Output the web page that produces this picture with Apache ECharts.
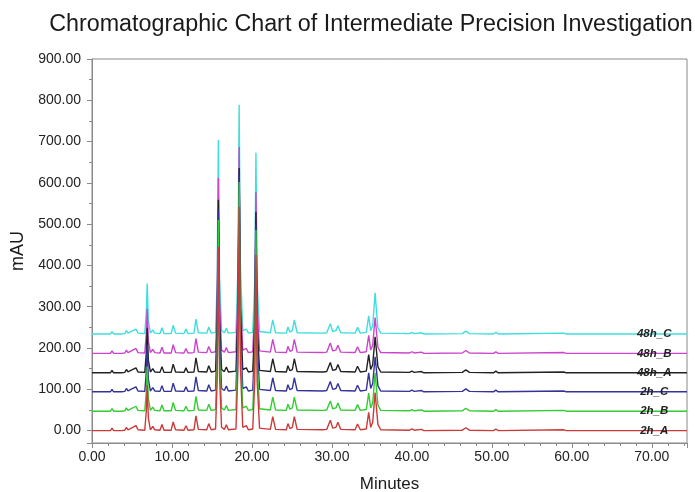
<!DOCTYPE html>
<html><head><meta charset="utf-8">
<script src="https://cdn.jsdelivr.net/npm/echarts@6/dist/echarts.min.js"></script>
<style>html,body{margin:0;padding:0;background:#fff}#c{width:695px;height:492px}</style>
</head><body><div id="c"></div>
<script>
// retention times (minutes)
const times = [
  0, 2.3, 2.5, 2.7, 3.3, 3.5, 3.7, 4.1, 4.3, 4.5,
  4.8, 5.05, 5.5, 5.75, 6.6, 6.8, 6.9, 7.05, 7.3, 7.6,
  7.85, 8.5, 8.75, 9.0, 9.9, 10.15, 10.45, 11.5, 11.75, 12.0,
  12.75, 13.0, 13.3, 14.35, 14.6, 14.9, 15.45, 15.65, 15.8, 15.95,
  16.2, 16.55, 16.8, 17.05, 18.0, 18.25, 18.4, 18.55, 18.85, 19.1,
  19.3, 19.55, 20.1, 20.35, 20.5, 20.65, 20.95, 22.3, 22.6, 22.95,
  24.3, 24.5, 24.75, 25.05, 25.3, 25.65, 28.9, 29.1, 29.35, 29.8,
  30.1, 30.5, 30.75, 31.1, 32.9, 33.2, 33.55, 34.3, 34.6, 34.85,
  35.1, 35.4, 35.55, 35.75, 36.1, 39.7, 40.0, 40.3, 41.2, 41.5,
  46.3, 46.75, 47.2, 50.2, 50.5, 50.8, 59.0, 59.3, 74.4
];
const v2hA = [
  0,0,6,0,0,4,0,1,8,2,
  5,2,12,2,1,50,110,30,2,10,
  2,1,15,1,1,21,2,1,12,1,
  2,36,3,2,17,2,4,120,445,130,
  8,3,14,2,4,150,542,160,8,4,
  12,2,4,120,426,120,6,3,34,3,
  2,17,5,8,34,3,2,5,3,25,
  6,8,20,3,2,16,2,4,44,8,
  20,92,60,15,2,1,4,1,3,0,
  1,7,1,0,4,0,2,0,0
];
const v2hB = [
  47,47,53,47,47,51,47,48,55,49,
  52,49,59,49,48,97,155,77,49,57,
  49,48,62,48,48,68,49,48,59,48,
  49,83,50,49,64,49,51,167,510,177,
  55,50,61,49,51,197,602,207,55,51,
  59,49,51,167,486,167,53,50,81,50,
  49,64,52,55,81,50,49,52,50,72,
  53,55,67,50,49,63,49,51,91,55,
  67,140,107,62,49,48,51,48,50,47,
  48,54,48,47,51,47,49,47,47
];
const v2hC = [
  94,94,100,94,94,98,94,95,102,96,
  99,96,106,96,95,144,208,124,96,104,
  96,95,109,95,95,115,96,95,106,95,
  96,130,97,96,111,96,98,214,535,224,
  102,97,108,96,98,244,620,254,102,98,
  106,96,98,214,500,214,100,97,128,97,
  96,111,99,102,128,97,96,99,97,119,
  100,102,114,97,96,110,96,98,140,102,
  114,179,150,109,96,95,98,95,97,94,
  95,101,95,94,98,94,96,94,94
];
const v48hA = [
  140,140,146,140,140,144,140,141,148,142,
  145,142,152,142,141,190,249,170,142,150,
  142,141,155,141,141,161,142,141,152,141,
  142,176,143,142,157,142,144,255,559,265,
  148,143,154,142,144,285,636,295,148,144,
  152,142,144,255,530,255,146,143,174,143,
  142,157,145,148,174,143,142,145,143,165,
  146,148,160,143,142,156,142,144,184,148,
  160,227,198,155,142,141,144,141,143,140,
  141,147,141,140,144,140,142,140,140
];
const v48hB = [
  187,187,193,187,187,191,187,188,195,189,
  192,189,199,189,188,237,295,217,189,197,
  189,188,202,188,188,208,189,188,199,188,
  189,223,190,189,204,189,191,302,612,312,
  195,190,201,189,191,332,687,342,195,191,
  199,189,191,302,578,302,193,190,221,190,
  189,204,192,195,221,190,189,192,190,212,
  193,195,207,190,189,203,189,191,231,195,
  207,274,245,202,189,188,191,188,190,187,
  188,194,188,187,191,187,189,187,187
];
const v48hC = [
  234,234,240,234,234,238,234,235,242,236,
  239,236,246,236,235,290,356,266,236,244,
  236,235,249,235,235,255,236,235,246,235,
  236,270,237,236,251,236,238,360,704,370,
  242,237,248,236,238,394,789,404,242,238,
  246,236,238,360,673,360,240,237,268,237,
  236,251,239,242,268,237,236,239,237,259,
  240,242,254,237,236,250,236,238,278,242,
  254,334,295,249,236,235,238,235,237,234,
  235,241,235,234,238,234,236,234,234
];
const seriesNames = ['48h_C', '48h_B', '48h_A', '2h_C', '2h_B', '2h_A'];
const seriesValues = [v48hC, v48hB, v48hA, v2hC, v2hB, v2hA];
const seriesColors = ['#3fdede', '#cc44cc', '#222222', '#33339a', '#33cc33', '#cc3a3a'];
const labelTime = 70.3;

const FONT = '"Liberation Sans", Arial, sans-serif';
const chart = echarts.init(document.getElementById('c'), null, {renderer: 'canvas'});
chart.setOption({
  animation: false,
  backgroundColor: '#ffffff',
  title: {
    text: 'Chromatographic Chart of Intermediate Precision Investigation',
    left: 366, top: 8, textAlign: 'center',
    textStyle: {fontFamily: FONT, fontSize: 23.3, fontWeight: 'normal', color: '#1a1a1a'}
  },
  grid: {left: 92, right: 8, top: 59, bottom: 49, show: true, borderColor: '#8a8a8a', borderWidth: 1,
    containLabel: false, outerBoundsMode: 'none'},
  xAxis: {
    type: 'value', min: 0, max: 74.4, interval: 10,
    name: 'Minutes', nameLocation: 'middle', nameGap: 33,
    nameTextStyle: {fontFamily: FONT, fontSize: 17, color: '#1a1a1a'},
    axisLine: {show: true, onZero: false, lineStyle: {color: '#8a8a8a'}},
    axisTick: {show: true, length: 5, lineStyle: {color: '#8a8a8a'}},
    minorTick: {show: true, splitNumber: 5, length: 3, lineStyle: {color: '#8a8a8a'}},
    splitLine: {show: false},
    axisLabel: {showMaxLabel: false, fontFamily: FONT, fontSize: 14, color: '#222', margin: 7,
      formatter: v => v.toFixed(2)}
  },
  yAxis: {
    type: 'value', min: -30, max: 900, splitNumber: 9,
    name: 'mAU', nameLocation: 'middle', nameGap: 61, nameRotate: 90,
    nameTextStyle: {fontFamily: FONT, fontSize: 18, color: '#1a1a1a'},
    axisLine: {show: true, onZero: false, lineStyle: {color: '#8a8a8a'}},
    axisTick: {show: true, length: 5, lineStyle: {color: '#8a8a8a'}},
    minorTick: {show: true, splitNumber: 2, length: 3, lineStyle: {color: '#8a8a8a'}},
    splitLine: {show: false},
    axisLabel: {showMinLabel: false, fontFamily: FONT, fontSize: 14, color: '#222', margin: 11,
      verticalAlign: 'middle', padding: [0, 0, 8, 0], formatter: v => v.toFixed(2)}
  },
  series: seriesNames.map((name, k) => ({
    name: name,
    type: 'line',
    showSymbol: false,
    symbol: 'none',
    lineStyle: {color: seriesColors[k], width: 1.4},
    itemStyle: {color: seriesColors[k]},
    data: times.map((t, i) => [t, seriesValues[k][i]]),
    markPoint: {
      silent: true,
      symbol: 'circle', symbolSize: 1,
      itemStyle: {color: 'rgba(0,0,0,0)'},
      label: {show: true, position: 'inside', formatter: name,
        fontFamily: FONT, fontSize: 11.5, fontStyle: 'italic', fontWeight: 'bold', color: '#222'},
      data: [{coord: [labelTime, seriesValues[k][seriesValues[k].length - 1]]}]
    }
  }))
});
</script></body></html>
